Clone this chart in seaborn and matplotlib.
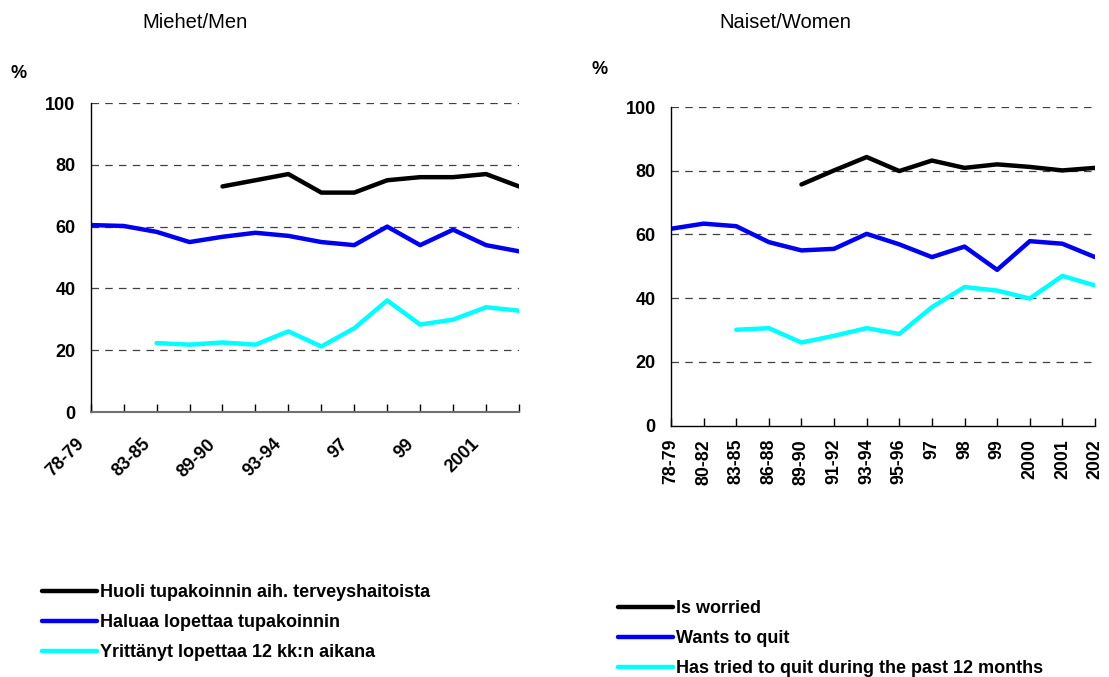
import numpy as np
import pandas as pd
import matplotlib
matplotlib.use("Agg")
import matplotlib.pyplot as plt
import matplotlib.transforms as mtransforms
import seaborn as sns

# Survey periods
periods = ['78-79', '80-82', '83-85', '86-88', '89-90', '91-92', '93-94',
           '95-96', '97', '98', '99', '2000', '2001', '2002']

# Men (%)
men_worried = [np.nan, np.nan, np.nan, np.nan, 73, 75, 77, 71, 71, 75, 76, 76, 77, 73]
men_wants = [60.5, 60.2, 58.3, 55, 56.7, 58, 57, 55, 54, 60, 54, 59, 54, 52]
men_tried = [np.nan, np.nan, 22.3, 21.8, 22.5, 21.8, 26.1, 21.2, 27.1, 36.1, 28.3, 29.9, 33.9, 32.8]

# Women (%)
women_worried = [np.nan, np.nan, np.nan, np.nan, 75.7, 80.1, 84.3, 79.9, 83.2, 80.9, 82, 81.2, 80.1, 80.9]
women_wants = [61.8, 63.4, 62.6, 57.6, 55, 55.5, 60.2, 56.9, 52.9, 56.2, 48.9, 57.9, 57.1, 52.9]
women_tried = [np.nan, np.nan, 30.1, 30.6, 26.1, 28.2, 30.6, 28.8, 37.2, 43.5, 42.4, 39.9, 47, 44]

series_keys = ['worried', 'wants', 'tried']
colors = {'worried': '#000000', 'wants': '#0000f0', 'tried': '#00ffff'}
fi_labels = ['Huoli tupakoinnin aih. terveyshaitoista',
             'Haluaa lopettaa tupakoinnin',
             'Yrittänyt lopettaa 12 kk:n aikana']
en_labels = ['Is worried', 'Wants to quit',
             'Has tried to quit during the past 12 months']


def make_df(worried, wants, tried):
    pos = np.arange(len(periods))
    frames = []
    for key, vals in zip(series_keys, [worried, wants, tried]):
        frames.append(pd.DataFrame({'pos': pos, 'value': vals, 'series': key}))
    return pd.concat(frames).dropna()


sns.set_theme(style='white')
plt.rcParams['font.family'] = ['Liberation Sans', 'DejaVu Sans']
plt.rcParams['text.color'] = 'black'
plt.rcParams['xtick.color'] = 'black'
plt.rcParams['ytick.color'] = 'black'
plt.rcParams['xtick.labelcolor'] = 'black'
plt.rcParams['ytick.labelcolor'] = 'black'

fig = plt.figure(figsize=(11.09, 6.77), dpi=100)
ax_m = fig.add_axes([90.7 / 1109, 1 - 412 / 677, (519 - 90.7) / 1109, (412 - 103) / 677])
ax_w = fig.add_axes([671 / 1109, 1 - 425.7 / 677, (1095 - 671) / 1109, (425.7 - 107) / 677])


def style_axes(ax):
    ax.set_xlim(0, len(periods) - 1)
    ax.set_ylim(0, 100)
    ax.set_yticks([0, 20, 40, 60, 80, 100])
    ax.set_yticklabels(['0', '20', '40', '60', '80', '100'], fontsize=13, fontweight='bold')
    ax.tick_params(axis='y', length=0, pad=11)
    ax.set_xticks(np.arange(len(periods)))
    ax.tick_params(axis='x', direction='in', length=6, width=1, color='black', bottom=True)
    for y in [20, 40, 60, 80, 100]:
        ax.axhline(y, color='#404040', lw=0.9, ls=(0, (6, 5)), zorder=0)
    for s in ['top', 'right']:
        ax.spines[s].set_visible(False)
    ax.spines['left'].set_color('black')
    ax.spines['left'].set_linewidth(1)
    ax.spines['bottom'].set_color('#707070')
    ax.spines['bottom'].set_linewidth(1.5)
    ax.set_xlabel('')
    ax.set_ylabel('')


# Men panel
sns.lineplot(data=make_df(men_worried, men_wants, men_tried), x='pos', y='value',
             hue='series', hue_order=series_keys, palette=colors, linewidth=3.2,
             estimator=None, legend=False, ax=ax_m)
style_axes(ax_m)
ax_m.set_xticklabels([p if i % 2 == 0 else '' for i, p in enumerate(periods)],
                     rotation=45, ha='right', va='top', rotation_mode='anchor',
                     fontsize=13, fontweight='bold')
ax_m.tick_params(axis='x', pad=17)
shift = mtransforms.ScaledTranslation(-11 / 72, 0, fig.dpi_scale_trans)
for lab in ax_m.get_xticklabels():
    lab.set_transform(lab.get_transform() + shift)

# Women panel
sns.lineplot(data=make_df(women_worried, women_wants, women_tried), x='pos', y='value',
             hue='series', hue_order=series_keys, palette=colors, linewidth=3.2,
             estimator=None, legend=False, ax=ax_w)
style_axes(ax_w)
ax_w.set_xticklabels(periods, rotation=90, ha='center', va='top',
                     fontsize=12.8, fontweight='bold')
ax_w.tick_params(axis='x', pad=9.5)
ax_w.spines['bottom'].set_color('black')
ax_w.spines['bottom'].set_linewidth(1)

# Titles and units
fig.text(195 / 1109, 1 - 23 / 677, 'Miehet/Men', ha='center', va='center', fontsize=14.5)
fig.text(785 / 1109, 1 - 22 / 677, 'Naiset/Women', ha='center', va='center', fontsize=14.5)
fig.text(19 / 1109, 1 - 73 / 677, '%', ha='center', va='center', fontsize=13, fontweight='bold')
fig.text(600 / 1109, 1 - 70 / 677, '%', ha='center', va='center', fontsize=13, fontweight='bold')

# Legends
leg_kw = dict(loc='upper left', frameon=False, borderpad=0, borderaxespad=0,
              handlelength=3.05, handletextpad=0.17, labelspacing=0.72,
              prop={'weight': 'bold', 'size': 13})
fig.legend(ax_m.lines[:3], fi_labels, bbox_to_anchor=(42 / 1109, 1 - 584 / 677), **leg_kw)
fig.legend(ax_w.lines[:3], en_labels, bbox_to_anchor=(618 / 1109, 1 - 600 / 677), **leg_kw)

fig.savefig('out.png', dpi=100)
